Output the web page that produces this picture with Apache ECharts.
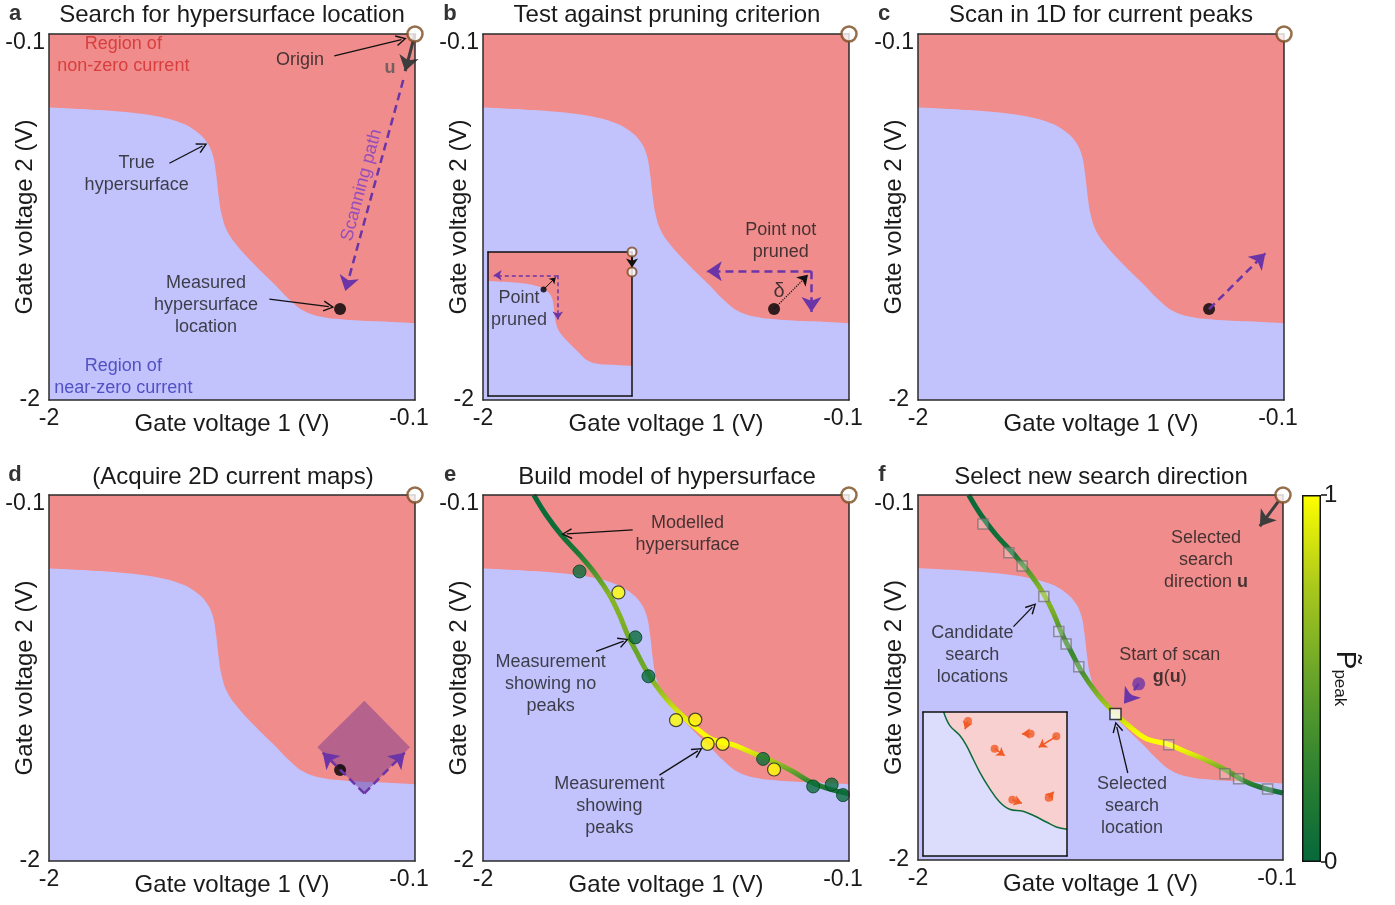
<!DOCTYPE html>
<html>
<head>
<meta charset="utf-8">
<title>Hypersurface search</title>
<script src="https://cdn.jsdelivr.net/npm/echarts@6.0.0/dist/echarts.min.js"></script>
<style>
  html, body { margin: 0; padding: 0; background: #fff; }
  #main { width: 1395px; height: 905px; }
</style>
</head>
<body>
<div id="main"></div>
<script>
// ---- data (gate voltages in V) ----
// true hypersurface: boundary between non-zero (above) and near-zero (below) current
const surfaceX = [-2, -1.735, -1.476, -1.320, -1.233, -1.182, -1.150, -1.133, -1.119, -1.105, -1.078, -1.026, -0.939, -0.835, -0.749, -0.680, -0.593, -0.437, -0.264, -0.1]
const surfaceY = [-0.481, -0.495, -0.521, -0.560, -0.607, -0.659, -0.728, -0.823, -0.944, -1.031, -1.117, -1.195, -1.291, -1.394, -1.481, -1.536, -1.567, -1.585, -1.593, -1.602]

// measured hypersurface location (panels a-d)
const measuredX = [-0.489]
const measuredY = [-1.528]

// modelled hypersurface (panels e, f) and its peak probability along the curve
const modelX = [-1.736, -1.672, -1.594, -1.499, -1.413, -1.344, -1.292, -1.249, -1.205, -1.145, -1.067, -0.981, -0.894, -0.808, -0.704, -0.601, -0.497, -0.393, -0.307, -0.221, -0.1]
const modelY = [-0.1, -0.204, -0.307, -0.411, -0.515, -0.618, -0.722, -0.826, -0.912, -1.024, -1.136, -1.231, -1.309, -1.370, -1.396, -1.439, -1.482, -1.534, -1.586, -1.620, -1.651]
const pPeakE = [0.02, 0.03, 0.05, 0.15, 0.4, 0.62, 0.6, 0.55, 0.5, 0.55, 0.72, 0.9, 0.98, 1.0, 0.97, 0.85, 0.65, 0.45, 0.25, 0.1, 0.05]
const pPeakF = [0.02, 0.03, 0.05, 0.1, 0.45, 0.65, 0.55, 0.35, 0.3, 0.35, 0.6, 0.8, 0.95, 1.0, 1.0, 0.9, 0.7, 0.45, 0.25, 0.1, 0.05]

// measurements in panel e
const noPeakX = [-1.499, -1.209, -1.141, -0.546, -0.286, -0.190, -0.131]
const noPeakY = [-0.497, -0.839, -1.041, -1.470, -1.613, -1.603, -1.658]
const peakX = [-1.297, -0.998, -0.898, -0.834, -0.756, -0.489]
const peakY = [-0.606, -1.269, -1.266, -1.392, -1.392, -1.525]

// candidate search locations (panel f) and the selected one
const candX = [-1.662, -1.527, -1.458, -1.345, -1.267, -1.229, -1.163, -0.695, -0.402, -0.331, -0.180]
const candY = [-0.251, -0.400, -0.469, -0.628, -0.810, -0.876, -0.994, -1.400, -1.551, -1.577, -1.630]
const selectedX = [-0.972]
const selectedY = [-1.240]
const scanStartX = [-0.851]
const scanStartY = [-1.083]

// 2D current map footprint (panel d), vertices top/right/bottom/left
const mapX = [-0.363, -0.126, -0.363, -0.607]
const mapY = [-1.168, -1.410, -1.649, -1.410]

// panel f inset: local hypersurface and candidate points with directions
const insetSurfX = [-2, -1.727, -1.648, -1.516, -1.428, -1.362, -1.252, -1.120, -0.989, -0.857, -0.681, -0.549, -0.373, -0.241, -0.1]
const insetSurfY = [-0.1, -0.1, -0.276, -0.408, -0.540, -0.672, -0.892, -1.111, -1.287, -1.384, -1.410, -1.463, -1.551, -1.617, -1.648]
const insetPtX = [-1.406, -0.580, -0.241, -1.055, -0.821, -0.342]
const insetPtY = [-0.219, -0.386, -0.421, -0.584, -1.257, -1.230]
const insetDirX = [-1.464, -0.747, -0.518, -0.879, -0.646, -0.241]
const insetDirY = [-0.377, -0.386, -0.593, -0.707, -1.323, -1.111]

// axis range and tick labels
const V_MIN = -2
const V_MAX = -0.1
const V_TICKS = [-2, -0.1]
const P_TICKS = [0, 1]

// ---- styles ----
const FONT = "'Liberation Sans', Arial, Helvetica, sans-serif"
const INK = '#1a1a1a'
const RED_BG = '#f08c8c'
const BLUE_BG = '#c2c2fd'
const CMAP = ['#06683a', '#2e8230', '#67a42a', '#aac81c', '#ffff00']
const CHEVRON = 'path://M0,12L6,0L12,12L10.6,12.8L6,3.4L1.4,12.8Z'
const THIN = { color: '#111', width: 1.3, head: CHEVRON, size: 11 }
const DASH = { color: '#6b35a8', width: 2.5, type: [8, 5], head: 'arrow', size: 15 }
const DASH_S = { color: '#6b35a8', width: 1.5, type: [4, 3], head: 'arrow', size: 8 }
const GREY = { color: '#3d3d3d', width: 3, head: 'arrow', size: 15 }
const DOTTED = { color: '#111', width: 1.2, type: 'dotted', head: 'arrow', size: 10 }
const BLK_S = { color: '#111', width: 2, head: 'arrow', size: 9 }
const BLK_XS = { color: '#111', width: 1, head: 'arrow', size: 6 }
const ORANGE = { color: '#f15a24', width: 1.5, head: 'arrow', size: 8 }

const SIZE = 366
const PANELS = [
  { key: 'a', title: 'Search for hypersurface location', left: 49, top: 34, tx: 232, ty: 15, lx: 15, ly: 14 },
  { key: 'b', title: 'Test against pruning criterion', left: 483, top: 34, tx: 667, ty: 15, lx: 450, ly: 14 },
  { key: 'c', title: 'Scan in 1D for current peaks', left: 918, top: 34, tx: 1101, ty: 15, lx: 884, ly: 14 },
  { key: 'd', title: '(Acquire 2D current maps)', left: 49, top: 495, tx: 233, ty: 477, lx: 15, ly: 475 },
  { key: 'e', title: 'Build model of hypersurface', left: 483, top: 495, tx: 667, ty: 477, lx: 450, ly: 475 },
  { key: 'f', title: 'Select new search direction', left: 918, top: 495, tx: 1101, ty: 477, lx: 882, ly: 475 }
]

const grid = []
const xAxis = []
const yAxis = []
const series = []
const graphic = []

function pts(xs, ys) {
  return xs.map((x, i) => [x, ys[i]])
}

function axisOf(gi, pos, labelled, zlevel, lineColor) {
  const isX = pos === 'bottom' || pos === 'top'
  const ax = {
    type: 'value', gridIndex: gi, position: pos, min: V_MIN, max: V_MAX, z: 9, zlevel: zlevel,
    axisLine: { show: true, onZero: false, lineStyle: { color: lineColor, width: 1.5 } },
    axisTick: { show: false },
    splitLine: { show: false },
    axisLabel: { show: false }
  }
  if (labelled) {
    ax.axisLabel = {
      show: true, customValues: V_TICKS, fontSize: 23, fontFamily: FONT, color: INK,
      margin: isX ? 7 : 4,
      formatter: isX
        ? (v => v < -1 ? '-2' : '{r|-0.1}')
        : (v => v < -1 ? '{b|-2}' : '{t|-0.1}'),
      rich: { r: { padding: [0, 12, 0, 0] }, t: { padding: [18, 0, 0, 0] }, b: { padding: [0, 5, 0, 0] } }
    }
    ax.name = isX ? 'Gate voltage 1 (V)' : 'Gate voltage 2 (V)'
    ax.nameLocation = 'middle'
    ax.nameGap = 12
    ax.nameMoveOverlap = false
    ax.nameTextStyle = { fontSize: 24, fontFamily: FONT, color: INK }
  }
  return ax
}

function addFrame(left, top, size, labelled, zlevel, lineColor) {
  const gi = grid.length
  grid.push({
    left: left, top: top, width: size, height: size, show: true, zlevel: zlevel,
    backgroundColor: zlevel ? 'rgba(0,0,0,0)' : RED_BG, borderWidth: 0, outerBoundsMode: 'none'
  })
  const ax = { xAxisIndex: xAxis.length, yAxisIndex: yAxis.length, zlevel: zlevel }
  xAxis.push(axisOf(gi, 'bottom', labelled, zlevel, lineColor), axisOf(gi, 'top', false, zlevel, lineColor))
  yAxis.push(axisOf(gi, 'left', labelled, zlevel, lineColor), axisOf(gi, 'right', false, zlevel, lineColor))
  ax.vPerPx = (V_MAX - V_MIN) / size
  return ax
}

function base(ax) {
  return { xAxisIndex: ax.xAxisIndex, yAxisIndex: ax.yAxisIndex, zlevel: ax.zlevel, silent: true, animation: false }
}

// solid background behind an inset (drawn as a series so it sits on the inset layer)
function backdrop(ax, fill) {
  return Object.assign(base(ax), {
    type: 'custom', z: 0, data: [0],
    renderItem: (params) => ({
      type: 'rect',
      shape: { x: params.coordSys.x, y: params.coordSys.y, width: params.coordSys.width, height: params.coordSys.height },
      style: { fill: fill }
    })
  })
}

function area(ax, xs, ys, fill) {
  return Object.assign(base(ax), {
    type: 'line', z: 1, symbol: 'none', smooth: 0.4,
    data: pts(xs, ys),
    lineStyle: { width: 0 },
    areaStyle: { color: fill, opacity: 1, origin: 'start' }
  })
}

function curve(ax, xs, ys, color, width, z) {
  return Object.assign(base(ax), {
    type: 'line', z: z || 3, symbol: 'none', smooth: 0.4,
    data: pts(xs, ys), lineStyle: { color: color, width: width }
  })
}

function markers(ax, xs, ys, symbol, size, style, z) {
  return Object.assign(base(ax), {
    type: 'scatter', z: z || 5, clip: false, symbol: symbol, symbolSize: size,
    itemStyle: style, data: pts(xs, ys)
  })
}

function arrows(ax, st, segs) {
  const pull = st.size / 2 * ax.vPerPx
  return Object.assign(base(ax), {
    type: 'lines', coordinateSystem: 'cartesian2d', z: 7, clip: false,
    symbol: ['none', st.head], symbolSize: st.size,
    lineStyle: { color: st.color, width: st.width, type: st.type || 'solid', opacity: 1 },
    data: segs.map(s => {
      const dx = s[2] - s[0], dy = s[3] - s[1], len = Math.hypot(dx, dy)
      return { coords: [[s[0], s[1]], [s[2] - dx / len * pull, s[3] - dy / len * pull]] }
    })
  })
}

function texts(ax, items) {
  return Object.assign(base(ax), {
    type: 'scatter', z: 8, clip: false, symbolSize: 1,
    itemStyle: { color: 'rgba(0,0,0,0)' },
    labelLayout: { hideOverlap: false },
    data: items.map(t => ({
      value: [t.x, t.y],
      label: {
        show: true, position: 'inside', formatter: t.text, color: t.color || INK,
        fontSize: t.size || 18, lineHeight: 22, fontFamily: FONT, rotate: t.rotate || 0,
        rich: { b: { fontWeight: 'bold' } }
      }
    }))
  })
}

function pColor(p) {
  return echarts.color.lerp(p, CMAP)
}

function modelGradient(pVals) {
  const yTop = Math.max(...modelY), yBot = Math.min(...modelY)
  return new echarts.graphic.LinearGradient(0, 0, 0, 1,
    modelY.map((y, i) => ({ offset: (yTop - y) / (yTop - yBot), color: pColor(pVals[i]) })))
}

const ORIGIN_STYLE = { color: '#fff', borderColor: '#7a4a1e', borderWidth: 2.5 }
const DOT_STYLE = { color: '#000' }

// ---- main panels ----
const ax = {}
PANELS.forEach(p => {
  const w = p.key === 'f' ? SIZE - 1 : SIZE
  const a = addFrame(p.left, p.top, w, true, 0, '#2b2b2b')
  ax[p.key] = a
  series.push(area(a, surfaceX, surfaceY, BLUE_BG))
  series.push(markers(a, [V_MAX], [V_MAX], 'circle', 15, ORIGIN_STYLE, 10))
  graphic.push({ type: 'text', x: p.tx, y: p.ty, silent: true,
    style: { text: p.title, fill: INK, font: '24px ' + FONT, align: 'center', verticalAlign: 'middle' } })
  graphic.push({ type: 'text', x: p.lx, y: p.ly, silent: true,
    style: { text: p.key, fill: '#333', font: 'bold 22px ' + FONT, align: 'center', verticalAlign: 'middle' } })
})

// a: search for hypersurface location
series.push(markers(ax.a, measuredX, measuredY, 'circle', 12, DOT_STYLE))
series.push(arrows(ax.a, GREY, [[-0.1, -0.1, -0.161, -0.33]]))
series.push(arrows(ax.a, DASH, [[-0.161, -0.339, -0.472, -1.472]]))
series.push(arrows(ax.a, THIN, [
  [-0.519, -0.214, -0.143, -0.122],
  [-1.375, -0.771, -1.178, -0.668],
  [-0.856, -1.476, -0.519, -1.519]
]))
series.push(texts(ax.a, [
  { x: -1.614, y: -0.209, text: 'Region of\nnon-zero current', color: '#d22a2a' },
  { x: -0.697, y: -0.235, text: 'Origin' },
  { x: -0.230, y: -0.278, text: '{b|u}', color: '#555' },
  { x: -1.545, y: -0.828, text: 'True\nhypersurface' },
  { x: -1.185, y: -1.507, text: 'Measured\nhypersurface\nlocation' },
  { x: -1.614, y: -1.883, text: 'Region of\nnear-zero current', color: '#3535b5' },
  { x: -0.377, y: -0.884, text: 'Scanning path', color: '#7d3fc8', rotate: 75 }
]))

// b: pruning test
series.push(markers(ax.b, measuredX, measuredY, 'circle', 12, DOT_STYLE))
series.push(arrows(ax.b, DASH, [
  [-0.295, -1.332, -0.877, -1.332],
  [-0.295, -1.332, -0.295, -1.582]
]))
series.push(arrows(ax.b, DOTTED, [[-0.489, -1.527, -0.295, -1.332]]))
series.push(texts(ax.b, [
  { x: -0.454, y: -1.177, text: 'Point not\npruned' },
  { x: -0.463, y: -1.435, text: 'δ', size: 20 }
]))
// b inset: same search at a point that gets pruned
const bIn = addFrame(488, 252, 144, false, 1, '#111')
series.push(backdrop(bIn, RED_BG))
series.push(area(bIn, surfaceX, surfaceY, BLUE_BG))
series.push(arrows(bIn, BLK_S, [[-0.1, -0.1, -0.1, -0.363]]))
series.push(markers(bIn, [V_MAX, V_MAX], [V_MAX, -0.363], 'circle', 9, { color: '#fff', borderColor: '#7a4a1e', borderWidth: 2 }, 10))
series.push(arrows(bIn, DASH_S, [
  [-1.079, -0.407, -1.978, -0.407],
  [-1.079, -0.407, -1.079, -1.043]
]))
series.push(arrows(bIn, BLK_XS, [[-1.267, -0.596, -1.079, -0.407]]))
series.push(markers(bIn, [-1.267], [-0.596], 'circle', 6, DOT_STYLE))
series.push(texts(bIn, [{ x: -1.592, y: -0.858, text: 'Point\npruned' }]))

// c: 1D scan for peaks
series.push(arrows(ax.c, DASH, [[-0.489, -1.528, -0.169, -1.211]]))
series.push(markers(ax.c, measuredX, measuredY, 'circle', 12, DOT_STYLE))

// d: 2D current map footprint
series.push(Object.assign(base(ax.d), {
  type: 'custom', z: 4, data: [0],
  renderItem: (params, api) => ({
    type: 'polygon',
    shape: { points: mapX.map((x, i) => api.coord([x, mapY[i]])) },
    style: { fill: 'rgba(100,40,140,0.42)' }
  })
}))
series.push(markers(ax.d, measuredX, measuredY, 'circle', 12, DOT_STYLE))
series.push(arrows(ax.d, DASH, [
  [mapX[2], mapY[2], mapX[3], mapY[3]],
  [mapX[2], mapY[2], mapX[1], mapY[1]]
]))

// e: modelled hypersurface with measurements
series.push(curve(ax.e, modelX, modelY, modelGradient(pPeakE), 5))
series.push(markers(ax.e, noPeakX, noPeakY, 'circle', 13, { color: '#0a6b3b', borderColor: '#04401f', borderWidth: 1 }))
series.push(markers(ax.e, peakX, peakY, 'circle', 13, { color: '#ffff00', borderColor: '#222', borderWidth: 1.2 }))
series.push(arrows(ax.e, THIN, [
  [-1.223, -0.281, -1.594, -0.304],
  [-1.413, -0.912, -1.243, -0.848],
  [-1.084, -1.554, -0.860, -1.413]
]))
series.push(texts(ax.e, [
  { x: -0.938, y: -0.305, text: 'Modelled\nhypersurface' },
  { x: -1.649, y: -1.081, text: 'Measurement\nshowing no\npeaks' },
  { x: -1.344, y: -1.715, text: 'Measurement\nshowing\npeaks' }
]))

// f: select new search direction
series.push(curve(ax.f, modelX, modelY, modelGradient(pPeakF), 5))
series.push(markers(ax.f, candX, candY, 'rect', 10, { color: 'rgba(255,255,255,0.3)', borderColor: 'rgba(110,110,110,0.85)', borderWidth: 1.5 }))
series.push(markers(ax.f, selectedX, selectedY, 'rect', 11, { color: '#fff', borderColor: '#111', borderWidth: 1.5 }))
series.push(markers(ax.f, scanStartX, scanStartY, 'circle', 13, { color: '#6b35a8' }))
series.push(arrows(ax.f, GREY, [[-0.125, -0.135, -0.244, -0.294]]))
series.push(arrows(ax.f, DASH, [[scanStartX[0], scanStartY[0], -0.951, -1.218]]))
series.push(arrows(ax.f, THIN, [
  [-1.503, -0.785, -1.385, -0.663],
  [-0.908, -1.547, -0.972, -1.279]
]))
series.push(texts(ax.f, [
  { x: -0.501, y: -0.438, text: 'Selected\nsearch\ndirection {b|u}' },
  { x: -1.717, y: -0.934, text: 'Candidate\nsearch\nlocations' },
  { x: -0.690, y: -0.992, text: 'Start of scan\n{b|g}({b|u})' },
  { x: -0.886, y: -1.720, text: 'Selected\nsearch\nlocation' }
]))
// f inset: candidate points and their directions
const fIn = addFrame(923, 712, 144, false, 1, '#111')
series.push(backdrop(fIn, '#f9d0d0'))
series.push(area(fIn, insetSurfX, insetSurfY, '#dcdcfd'))
series.push(curve(fIn, insetSurfX.slice(1), insetSurfY.slice(1), '#0d6b3a', 1.5, 2))
series.push(arrows(fIn, ORANGE, insetPtX.map((x, i) => [x, insetPtY[i], insetDirX[i], insetDirY[i]])))
series.push(markers(fIn, insetPtX, insetPtY, 'circle', 8, { color: '#f15a24' }))

// ---- colour bar for P_peak ----
const cbGrid = grid.length
grid.push({ left: 1302, top: 495, width: 19, height: 367, show: false, outerBoundsMode: 'none' })
const cbX = xAxis.length, cbY = yAxis.length
xAxis.push({ type: 'category', gridIndex: cbGrid, data: ['P'], show: false })
yAxis.push({
  type: 'value', gridIndex: cbGrid, position: 'right', min: 0, max: 1,
  axisLine: { show: false },
  axisTick: { show: true, customValues: P_TICKS, length: 6, lineStyle: { color: '#111', width: 1.5 } },
  axisLabel: { customValues: P_TICKS, fontSize: 24, fontFamily: FONT, color: INK, margin: 3 },
  splitLine: { show: false },
  name: '{p|P\u0303}{s|peak}', nameLocation: 'middle', nameRotate: -90, nameGap: 10,
  nameMoveOverlap: false,
  nameTextStyle: {
    fontFamily: FONT, color: INK, fontSize: 28,
    rich: {
      p: { fontSize: 28, lineHeight: 28, verticalAlign: 'top' },
      s: { fontSize: 17, lineHeight: 20, verticalAlign: 'bottom', padding: [12, 0, 0, 0] }
    }
  }
})
series.push({
  type: 'bar', xAxisIndex: cbX, yAxisIndex: cbY, silent: true, barWidth: '100%', animation: false,
  data: [1],
  itemStyle: {
    borderColor: '#111', borderWidth: 1.5,
    color: new echarts.graphic.LinearGradient(0, 0, 0, 1,
      CMAP.slice().reverse().map((c, i) => ({ offset: i / (CMAP.length - 1), color: c })))
  }
})

const chart = echarts.init(document.getElementById('main'))
chart.setOption({
  animation: false,
  textStyle: { fontFamily: FONT },
  grid: grid,
  xAxis: xAxis,
  yAxis: yAxis,
  series: series,
  graphic: graphic
})
</script>
</body>
</html>
